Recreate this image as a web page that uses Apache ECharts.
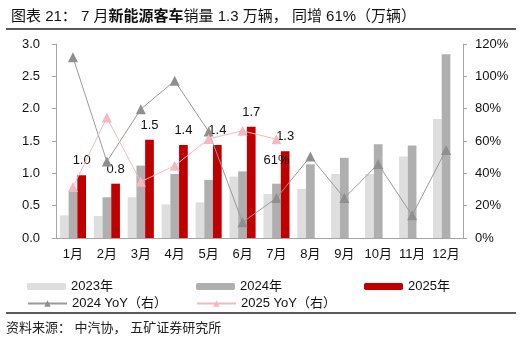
<!DOCTYPE html>
<html><head><meta charset="utf-8">
<script src="https://cdn.jsdelivr.net/npm/echarts@6/dist/echarts.min.js"></script>
<style>html,body{margin:0;padding:0;background:#fff}#c{width:522px;height:342px}</style>
</head><body><div id="c"></div>
<script>
var months = ['1月','2月','3月','4月','5月','6月','7月','8月','9月','10月','11月','12月'];
var sales2023 = [0.35,0.34,0.63,0.52,0.55,0.95,0.68,0.76,0.99,0.99,1.26,1.84];
var sales2024 = [0.73,0.63,1.12,0.99,0.90,1.03,0.84,1.14,1.24,1.45,1.43,2.84];
var sales2025 = [0.97,0.84,1.52,1.44,1.44,1.72,1.34];
var yoy2024 = [111.8,47.3,79.7,97.2,65.9,9.7,24.7,50.4,24.7,45.7,14.0,54.5];
var yoy2025 = [31.5,74.5,34.8,44.7,61.3,66.3,61.1];
var leftTicks = {min:0, max:3, interval:0.5};
var rightTicks = {min:0, max:120, interval:20};

var FONT = '"Liberation Sans","Noto Sans CJK SC",sans-serif';
var chart = echarts.init(document.getElementById('c'));
var yoy2025Data = yoy2025.map(function(v,i){
  if (i === yoy2025.length-1) {
    return {value:v, label:{show:true, position:'bottom', distance:10, formatter:function(p){return Math.round(p.value)+'%';}, color:'#111', fontSize:13, fontFamily:FONT}};
  }
  return v;
});
function legendItem(name, left, top, h){
  return {data:[name], left:left, top:top, itemWidth:39, itemHeight:h, itemGap:0,
    textStyle:{fontSize:13, color:'#111', fontFamily:FONT, padding:[0,0,0,0]}, selectedMode:false};
}
chart.setOption({
  animation:false,
  textStyle:{fontFamily:FONT},
  title:{
    left:6, top:4,
    text:'{a|图表 21： 7 月}{b|新能源客车}{a|销量 1.3 万辆， 同增 61%（万辆）}',
    textStyle:{fontWeight:'normal', rich:{
      a:{fontSize:15, color:'#111', fontWeight:'normal', fontFamily:FONT},
      b:{fontSize:15, color:'#111', fontWeight:'bold', fontFamily:FONT}
    }}
  },
  graphic:[
    {type:'line', shape:{x1:6,y1:29,x2:516,y2:29}, style:{stroke:'#222', lineWidth:1.5}},
    {type:'line', shape:{x1:6,y1:313,x2:516,y2:313}, style:{stroke:'#222', lineWidth:1.5}},
    {type:'text', left:6, top:322, style:{text:'资料来源： 中汽协， 五矿证券研究所', fontSize:13, fill:'#222', fontFamily:FONT}}
  ],
  legend:[
    legendItem('2023年',22,275,7),
    legendItem('2024年',191,275,7),
    legendItem('2025年',359,275,7),
    legendItem('2024 YoY（右）',22,292,8),
    legendItem('2025 YoY（右）',191,292,8)
  ],
  grid:{left:56, right:59, top:44, bottom:104},
  xAxis:{
    type:'category', data:months, boundaryGap:true,
    axisLine:{lineStyle:{color:'#a6a6a6'}},
    axisTick:{inside:true, length:3, lineStyle:{color:'#a6a6a6'}},
    axisLabel:{color:'#111', fontSize:13, margin:10, interval:0}
  },
  yAxis:[
    {type:'value', min:leftTicks.min, max:leftTicks.max, interval:leftTicks.interval,
     axisLine:{show:true, lineStyle:{color:'#a6a6a6'}},
     axisTick:{show:true, length:4, lineStyle:{color:'#a6a6a6'}},
     splitLine:{show:false},
     axisLabel:{color:'#111', fontSize:13, margin:16, formatter:function(v){return v.toFixed(1);}}},
    {type:'value', min:rightTicks.min, max:rightTicks.max, interval:rightTicks.interval,
     axisLine:{show:true, lineStyle:{color:'#a6a6a6'}},
     axisTick:{show:true, length:4, lineStyle:{color:'#a6a6a6'}},
     splitLine:{show:false},
     axisLabel:{color:'#111', fontSize:13, margin:12, formatter:'{value}%'}}
  ],
  series:[
    {name:'2023年', type:'bar', data:sales2023, barGap:'0%', barCategoryGap:'23%', itemStyle:{color:'#dedede'}},
    {name:'2024年', type:'bar', data:sales2024, barGap:'0%', barCategoryGap:'23%', itemStyle:{color:'#afafaf'}},
    {name:'2025年', type:'bar', data:sales2025, barGap:'0%', barCategoryGap:'23%', itemStyle:{color:'#c00000'},
     label:{show:true, position:'top', distance:8, color:'#111', fontSize:13, formatter:function(p){return p.value.toFixed(1);}}},
    {name:'2024 YoY（右）', type:'line', yAxisIndex:1, data:yoy2024, symbol:'triangle', symbolSize:10,
     lineStyle:{color:'#999999', width:1}, itemStyle:{color:'#8f8f8f'}, z:5},
    {name:'2025 YoY（右）', type:'line', yAxisIndex:1, data:yoy2025Data, symbol:'triangle', symbolSize:10,
     lineStyle:{color:'#f5b8c0', width:1}, itemStyle:{color:'#f5b8c0'}, z:5}
  ]
});
</script></body></html>
